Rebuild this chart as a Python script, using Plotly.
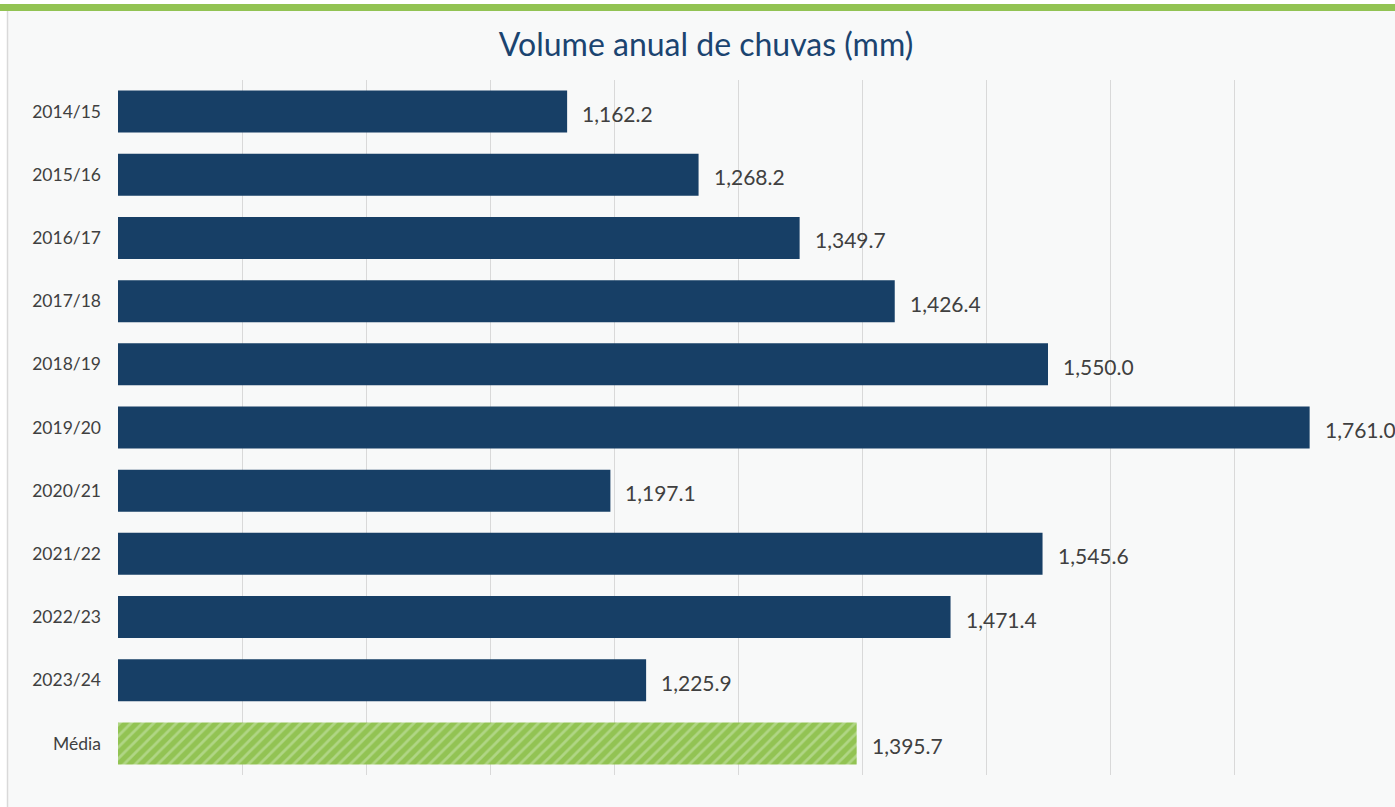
import plotly.graph_objects as go

categories = ["2014/15", "2015/16", "2016/17", "2017/18", "2018/19", "2019/20",
              "2020/21", "2021/22", "2022/23", "2023/24", "Média"]
values = [1162.2, 1268.2, 1349.7, 1426.4, 1550.0, 1761.0,
          1197.1, 1545.6, 1471.4, 1225.9, 1395.7]
x_range = [800, 1800]

W, H = 1395, 807
ML, MR, MT, MB = 118, 37, 80, 32
pw, ph = W - ML - MR, H - MT - MB

def px_x(p):
    return (p - ML) / pw

def px_y(p):
    return (H - MB - p) / ph

navy = "#173f66"
green = "#92c353"

fig = go.Figure()
# yearly bars
fig.add_trace(go.Bar(
    x=values[:-1], y=categories[:-1], orientation="h",
    marker=dict(color=navy, line=dict(width=0)),
    width=0.665, hoverinfo="skip",
))
# average bar (hatched)
fig.add_trace(go.Bar(
    x=values[-1:], y=categories[-1:], orientation="h",
    marker=dict(color=green, line=dict(width=0),
                pattern=dict(shape="/", fgcolor="#b0d685", fgopacity=1,
                             size=8, solidity=0.35, fillmode="overlay")),
    width=0.665, hoverinfo="skip",
))

for c, v in zip(categories, values):
    fig.add_annotation(x=v, y=c, xref="x", yref="y", text=f"{v:,.1f}",
                       showarrow=False, xanchor="left", xshift=13, yshift=-2,
                       font=dict(family="Lato", size=21, color="#404040"))

shapes = [
    dict(type="rect", xref="paper", yref="paper", x0=px_x(0), x1=px_x(7),
         y0=px_y(H), y1=px_y(0), fillcolor="white", line=dict(width=0), layer="below"),
    dict(type="rect", xref="paper", yref="paper", x0=px_x(0), x1=px_x(W),
         y0=px_y(4), y1=px_y(0), fillcolor="white", line=dict(width=0), layer="below"),
    dict(type="rect", xref="paper", yref="paper", x0=px_x(0), x1=px_x(W),
         y0=px_y(11), y1=px_y(4), fillcolor="#92c353", line=dict(width=0), layer="below"),
    dict(type="line", xref="paper", yref="paper", x0=px_x(7.5), x1=px_x(7.5),
         y0=px_y(H), y1=px_y(11), line=dict(color="#d9d9d9", width=1.5), layer="below"),
]

fig.update_layout(
    width=W, height=H,
    margin=dict(l=ML, r=MR, t=MT, b=MB),
    barmode="overlay",
    paper_bgcolor="#f8f9f9",
    plot_bgcolor="#f8f9f9",
    title=dict(text="Volume anual de chuvas (mm)", x=706 / W, xref="container",
               xanchor="center", y=1 - 45 / H, yref="container", yanchor="middle",
               font=dict(family="Lato", size=32, color="#1b4470")),
    xaxis=dict(range=x_range, dtick=100, tick0=800, showticklabels=False,
               showgrid=True, gridcolor="#d9d9d9", gridwidth=1, zeroline=False,
               showline=False, fixedrange=True),
    yaxis=dict(autorange="reversed", showgrid=False, zeroline=False,
               categoryorder="array", categoryarray=categories,
               tickfont=dict(family="Lato", size=17.5, color="#404040"),
               ticks="", ticklabelstandoff=16, fixedrange=True),
    shapes=shapes,
    showlegend=False,
    font=dict(family="Lato"),
)

fig.write_html("out.html", config={"displayModeBar": False},
               post_script="document.body.style.margin='0';document.body.style.padding='0';")
